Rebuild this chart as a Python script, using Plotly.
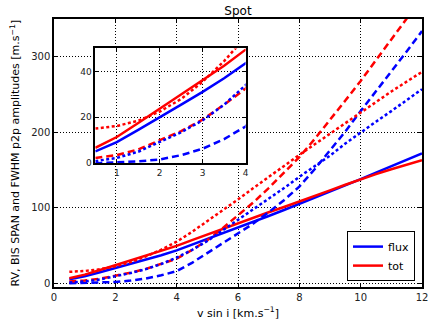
import plotly.graph_objects as go

# v sin i grid [km/s]
vsini = [0.5, 1.0, 1.5, 2.0, 2.5, 3.0, 3.5, 4.0, 4.5, 5.0, 5.5, 6.0,
         6.5, 7.0, 7.5, 8.0, 8.5, 9.0, 9.5, 10.0, 10.5, 11.0, 11.5, 12.0]

# peak-to-peak amplitudes [m/s]
flux_rv = [5.1, 9.2, 14.5, 19.9, 25.5, 31.1, 37.0, 43.5, 51.0, 58.5, 66.0, 73.0,
           81.0, 89.0, 97.0, 105.0, 113.0, 121.0, 129.5, 138.0, 146.5, 155.0, 163.5, 172.0]
tot_rv = [6.7, 11.4, 17.5, 23.8, 30.0, 36.3, 42.5, 49.5, 57.0, 64.5, 72.0, 80.0,
          87.0, 94.0, 101.0, 108.0, 115.5, 123.0, 130.5, 138.0, 144.5, 151.0, 157.0, 163.0]
flux_bis = [0.0, 0.3, 0.8, 1.6, 3.5, 6.3, 10.5, 16.0, 27.0, 40.0, 52.0, 65.0,
            79.0, 94.0, 110.0, 128.0, 151.0, 176.0, 201.0, 228.0, 254.0, 280.0, 307.0, 334.0]
tot_bis = [2.3, 3.5, 6.0, 9.9, 14.0, 19.0, 25.5, 32.5, 44.0, 57.0, 73.0, 90.0,
           107.0, 126.0, 146.0, 167.0, 191.0, 216.0, 242.0, 268.0, 295.0, 322.0, 350.0, 378.0]
flux_fwhm = [0.9, 2.3, 5.0, 9.2, 13.5, 18.7, 25.5, 34.0, 44.0, 56.0, 70.0, 84.0,
             97.0, 111.0, 126.0, 141.0, 155.0, 169.0, 185.0, 200.0, 214.0, 228.0, 243.0, 257.0]
tot_fwhm = [15.1, 16.2, 18.5, 22.5, 28.0, 35.5, 44.5, 55.0, 68.0, 82.0, 96.0, 111.0,
            126.0, 141.0, 155.0, 170.0, 184.0, 198.0, 213.0, 227.0, 240.0, 254.0, 267.0, 280.0]

main_xticks = [0, 2, 4, 6, 8, 10, 12]
main_yticks = [0, 100, 200, 300]
inset_xticks = [1, 2, 3, 4]
inset_yticks = [0, 20, 40]

BLUE = "#0000ff"
RED = "#ff0000"
FONT = "DejaVu Sans"
DASH = "7px,4px"
DOT = "3px,2.5px"

series = [
    (flux_rv, BLUE, "solid", "flux"),
    (tot_rv, RED, "solid", "tot"),
    (flux_bis, BLUE, DASH, None),
    (tot_bis, RED, DASH, None),
    (flux_fwhm, BLUE, DOT, None),
    (tot_fwhm, RED, DOT, None),
]

fig = go.Figure()
for xa, ya in [("x", "y"), ("x2", "y2")]:
    for vals, col, dash, name in series:
        fig.add_trace(go.Scatter(
            x=vsini, y=vals, mode="lines", xaxis=xa, yaxis=ya,
            line=dict(color=col, width=2.5, dash=dash),
            name=name if name else "",
            showlegend=(name is not None and xa == "x"),
            hoverinfo="skip",
        ))

axis_common = dict(
    showline=True, linecolor="black", linewidth=1.5, mirror="ticks",
    ticks="inside", ticklen=4, tickcolor="black", tickwidth=1,
    showgrid=True, gridcolor="black", gridwidth=1, griddash="1px,2px",
    zeroline=False, tickfont=dict(family=FONT, size=10, color="#222"),
)
inset_font = dict(family=FONT, size=9, color="#222")

fig.update_layout(
    width=436, height=327,
    margin=dict(l=54, r=8, t=19, b=40),
    paper_bgcolor="white", plot_bgcolor="white",
    font=dict(family=FONT, color="black"),
    title=dict(text="Spot", x=0.5, xref="paper", y=1 - 11 / 327, yref="container",
               xanchor="center", yanchor="middle", font=dict(size=12, family=FONT)),
    xaxis=dict(range=[0, 12], tickvals=main_xticks, **axis_common),
    yaxis=dict(range=[-5, 350], tickvals=main_yticks, **axis_common),
    xaxis2=dict(range=[0.5, 4], tickvals=inset_xticks, domain=[0.1123, 0.5206],
                anchor="y2", **{**axis_common, "tickfont": inset_font}),
    yaxis2=dict(range=[0, 50], tickvals=inset_yticks, domain=[0.462, 0.890],
                anchor="x2", **{**axis_common, "tickfont": inset_font}),
    legend=dict(x=0.981, y=0.022, xanchor="right", yanchor="bottom",
                bgcolor="white", bordercolor="black", borderwidth=1,
                font=dict(family=FONT, size=11), tracegroupgap=0, itemwidth=30),
    shapes=[dict(type="rect", xref="x2", yref="y2", x0=0.5, x1=4, y0=0, y1=50,
                 fillcolor="white", line=dict(width=0), layer="below")],
    annotations=[
        dict(text="v sin i [km.s<sup>−1</sup>]", xref="paper", yref="paper",
             x=0.5, y=-0.097, xanchor="center", yanchor="middle", showarrow=False,
             font=dict(family=FONT, size=11)),
        dict(text="RV, BIS SPAN and FWHM p2p amplitudes [m.s<sup>−1</sup>]",
             xref="paper", yref="paper", x=-0.107, y=0.5, textangle=-90,
             xanchor="center", yanchor="middle", showarrow=False,
             font=dict(family=FONT, size=11)),
    ],
)

fig.write_html("out.html", config={"displayModeBar": False},
               post_script="document.body.style.margin='0px';document.body.style.overflow='hidden';")
